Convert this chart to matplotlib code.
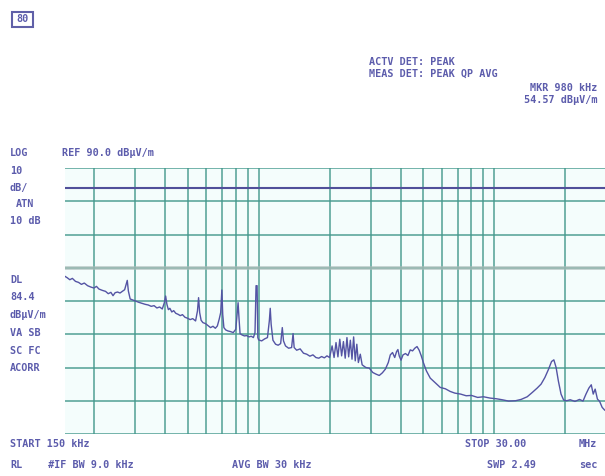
import matplotlib
matplotlib.use('Agg')
import matplotlib.pyplot as plt
from matplotlib.patches import Rectangle

# Trace: frequency in MHz, level in dBuV/m
freq_mhz = [0.150, 0.154, 0.158, 0.162, 0.167, 0.172, 0.177, 0.182, 0.188, 0.194,
            0.200, 0.205, 0.210, 0.217, 0.224, 0.230, 0.236, 0.241, 0.246, 0.252,
            0.258, 0.264, 0.270, 0.274, 0.277, 0.280, 0.285, 0.292, 0.300, 0.310,
            0.320, 0.330, 0.340, 0.350, 0.360, 0.370, 0.380, 0.390, 0.398, 0.403,
            0.408, 0.414, 0.420, 0.428, 0.436, 0.445, 0.455, 0.465, 0.475, 0.487,
            0.500, 0.512, 0.525, 0.540, 0.550, 0.556, 0.562, 0.570, 0.580, 0.595,
            0.610, 0.625, 0.640, 0.655, 0.668, 0.680, 0.690, 0.698, 0.704, 0.712,
            0.725, 0.740, 0.760, 0.780, 0.800, 0.810, 0.818, 0.826, 0.834, 0.850,
            0.870, 0.890, 0.910, 0.930, 0.950, 0.965, 0.975, 0.985, 0.992, 1.000,
            1.030, 1.060, 1.090, 1.110, 1.120, 1.130, 1.150, 1.180, 1.210, 1.240,
            1.260, 1.275, 1.300, 1.340, 1.380, 1.400, 1.415, 1.450, 1.500, 1.550,
            1.600, 1.650, 1.700, 1.750, 1.800, 1.850, 1.900, 1.950, 2.000, 2.050,
            2.090, 2.130, 2.170, 2.210, 2.250, 2.290, 2.330, 2.370, 2.410, 2.450,
            2.490, 2.530, 2.570, 2.610, 2.650, 2.700, 2.750, 2.850, 2.950, 3.050,
            3.150, 3.250, 3.350, 3.450, 3.550, 3.620, 3.700, 3.780, 3.850, 3.900,
            3.950, 4.020, 4.100, 4.200, 4.300, 4.400, 4.500, 4.600, 4.700, 4.800,
            4.900, 5.000, 5.150, 5.350, 5.600, 5.900, 6.200, 6.500, 6.800, 7.200,
            7.600, 8.000, 8.500, 9.000, 9.600, 10.20, 10.80, 11.50, 12.30, 13.00,
            13.80, 14.50, 15.20, 15.80, 16.40, 17.00, 17.50, 17.90, 18.30, 18.70,
            19.20, 19.70, 20.30, 21.00, 22.00, 23.00, 23.80, 24.50, 25.20, 25.80,
            26.30, 26.80, 27.40, 28.00, 28.70, 29.40]
level_db = [57.5, 57.0, 56.4, 56.8, 55.9, 55.6, 55.0, 55.4, 54.6, 54.2,
            53.9, 54.4, 53.6, 53.2, 52.9, 52.2, 52.6, 51.6, 52.5, 52.7,
            52.4, 52.9, 53.4, 55.0, 56.2, 53.0, 50.6, 50.3, 50.0, 49.6,
            49.3, 49.0, 48.8, 48.4, 48.6, 47.9, 48.2, 47.6, 49.5, 51.5,
            49.0, 47.4, 47.8, 46.7, 47.1, 46.3, 46.0, 45.6, 45.9, 45.1,
            44.8, 44.4, 44.7, 44.0, 47.0, 51.0, 46.5, 44.2, 43.5, 43.2,
            42.6, 42.0, 42.4, 41.8, 42.5, 44.5, 46.5, 53.3, 46.0, 42.0,
            41.3, 41.0, 40.8, 40.5, 41.5, 46.0, 49.5, 44.5, 40.2, 39.8,
            39.5, 39.6, 39.2, 39.4, 39.0, 40.5, 54.6, 54.6, 39.0, 38.3,
            38.0, 38.6, 39.0, 44.0, 47.8, 43.0, 38.2, 37.0, 36.7, 37.2,
            42.0, 38.0, 36.5, 35.8, 36.0, 40.2, 36.0, 35.2, 35.6, 34.3,
            34.0, 33.4, 33.8, 33.0, 32.8, 33.3, 32.9, 33.5, 33.0, 36.5,
            33.0, 37.5, 33.2, 38.5, 33.5, 37.8, 32.8, 39.0, 33.2, 38.2,
            32.5, 39.2, 32.0, 37.0, 31.5, 34.0, 30.8, 30.0, 29.8, 28.5,
            28.0, 27.6, 28.4, 29.5, 31.5, 33.8, 34.5, 33.0, 34.8, 35.4,
            33.5, 32.2, 33.8, 34.2, 33.6, 35.3, 35.0, 35.8, 36.3, 35.2,
            33.5, 31.5, 29.0, 26.8, 25.5, 24.0, 23.6, 22.8, 22.3, 22.0,
            21.5, 21.6, 21.0, 21.2, 20.8, 20.6, 20.3, 19.9, 20.0, 20.4,
            21.2, 22.5, 23.8, 25.0, 27.0, 29.5, 31.8, 32.3, 30.0, 26.0,
            22.0, 20.2, 20.0, 20.3, 19.8, 20.4, 19.9, 22.0, 23.8, 24.8,
            22.0, 23.5, 20.5, 19.8, 18.0, 17.2]

grid_freqs = [0.15, 0.2, 0.3, 0.4, 0.5, 0.6, 0.7, 0.8, 0.9, 1.0,
              2.0, 3.0, 4.0, 5.0, 6.0, 7.0, 8.0, 9.0, 10.0, 20.0, 30.0]
ref_level = 90.0
db_per_div = 10.0
n_div = 8
display_line = 84.0
limit_line = 60.0

W, H = 605, 476
fig = plt.figure(figsize=(W / 100, H / 100), dpi=100)
fig.patch.set_facecolor('white')

# plot area in pixels: x 64.5..606.7, y 168..434
ax = fig.add_axes([64.5 / W, 1 - 434 / H, 542.2 / W, 266 / H])
ax.set_facecolor('#f4fdfc')
ax.set_xscale('log')
ax.set_xlim(0.15, 30.0)
bottom = ref_level - n_div * db_per_div
ax.set_ylim(bottom, ref_level)
for s in ax.spines.values():
    s.set_visible(False)
ax.set_xticks([])
ax.set_yticks([])
ax.minorticks_off()

grid_col = '#45998e'
for f in grid_freqs:
    ax.axvline(f, color=grid_col, lw=1.15, alpha=0.9, zorder=1)
for k in range(n_div + 1):
    ax.axhline(bottom + k * db_per_div, color=grid_col, lw=1.15, alpha=0.9, zorder=1)

ax.axhline(limit_line, color='#aabcb8', lw=2.6, alpha=0.75, zorder=1.5)
ax.axhline(display_line, color='#50509a', lw=1.5, zorder=2)

ax.plot(freq_mhz, level_db, color='#5454a4', lw=1.0, zorder=3)

txt_col = '#5c5cac'
mono = 'DejaVu Sans Mono'


def put(x, y, s, ha='left'):
    fig.text(x / W, 1 - y / H, s, ha=ha, va='center', color=txt_col,
             family=mono, fontsize=7.3, fontweight='bold')


# status icon in the top-left corner
fig.patches.append(Rectangle((12 / W, 1 - 27 / H), 21 / W, 15 / H,
                             transform=fig.transFigure, fill=False,
                             edgecolor='#6060a8', lw=1.5))
put(22.5, 19.5, '80', ha='center')

put(369, 62, 'ACTV DET: PEAK')
put(369, 74, 'MEAS DET: PEAK QP AVG')
put(597, 88, 'MKR 980 kHz', ha='right')
put(597, 100, '54.57 dB\u03bcV/m', ha='right')

put(10, 153, 'LOG')
put(62, 153, 'REF 90.0 dB\u03bcV/m')
put(10, 171, '10')
put(10, 188, 'dB/')
put(16, 204, 'ATN')
put(10, 221, '10 dB')

put(10, 280, 'DL')
put(10, 297, '84.4')
put(10, 315, 'dB\u03bcV/m')
put(10, 333, 'VA SB')
put(10, 351, 'SC FC')
put(10, 368, 'ACORR')

put(10, 444, 'START 150 kHz')
put(465, 444, 'STOP 30.00')
put(597, 444, 'MHz', ha='right')
put(10, 465, 'RL')
put(48, 465, '#IF BW 9.0 kHz')
put(232, 465, 'AVG BW 30 kHz')
put(487, 465, 'SWP 2.49')
put(597, 465, 'sec', ha='right')

plt.savefig('out.png', dpi=100)
plt.close()
